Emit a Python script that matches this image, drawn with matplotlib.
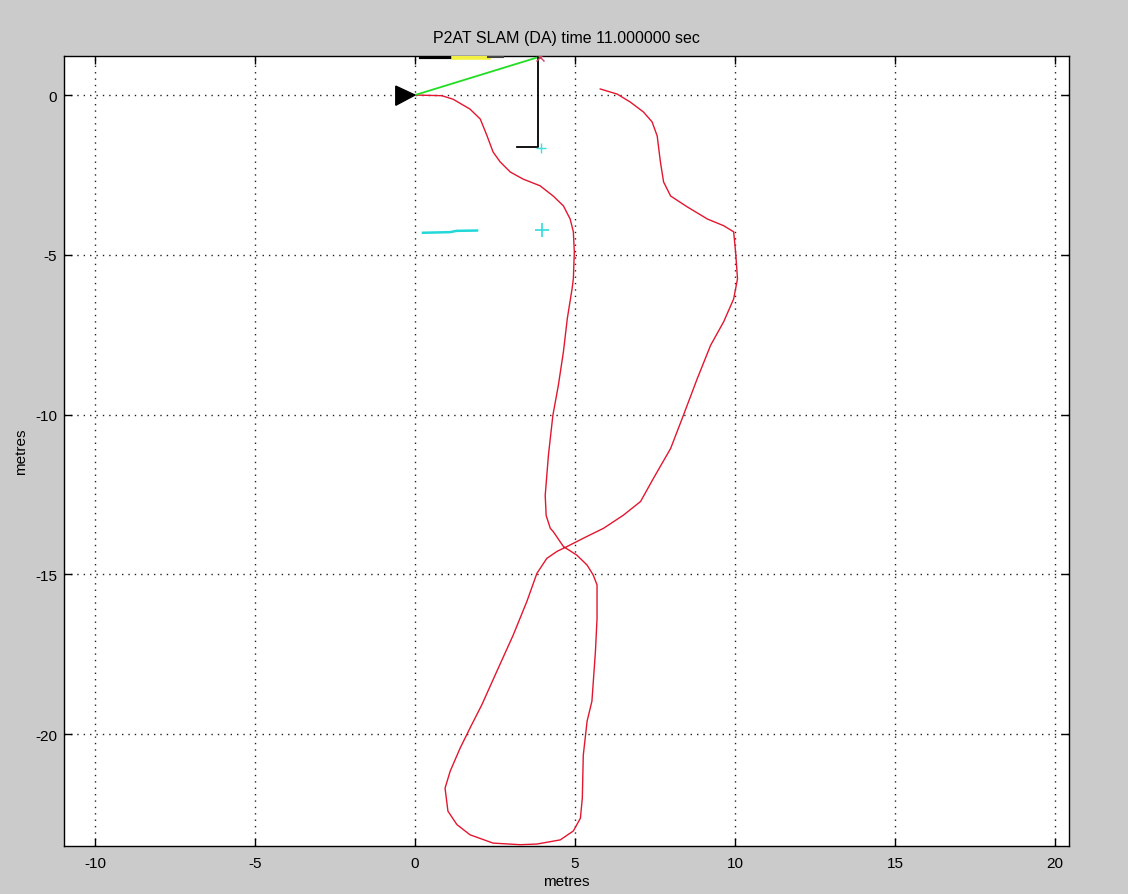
import matplotlib
matplotlib.use("Agg")
import matplotlib.pyplot as plt
from matplotlib.patches import Polygon

plt.rcParams['font.family'] = ['Liberation Sans', 'DejaVu Sans']

# Estimated vehicle path (metres)
path_x = [0.00, 0.84, 1.19, 1.72, 2.04, 2.25, 2.44, 2.66, 2.98, 3.38, 3.91, 4.32,
          4.64, 4.85, 4.95, 4.98, 4.95, 4.91, 4.76, 4.64, 4.48, 4.31, 4.17, 4.07,
          4.10, 4.23, 4.32, 4.64, 5.06, 5.38, 5.57, 5.69, 5.69, 5.64, 5.53, 5.38,
          5.26, 5.23, 5.17, 4.95, 4.54, 3.81, 3.29, 2.44, 1.72, 1.31, 1.03, 0.94,
          1.10, 1.41, 1.72, 2.09, 2.56, 3.07, 3.50, 3.81, 4.12, 4.44, 4.75, 5.38,
          5.89, 6.51, 7.05, 7.45, 7.99, 8.39, 8.82, 9.24, 9.65, 9.96, 10.08, 10.02,
          9.96, 9.65, 9.14, 8.51, 7.99, 7.77, 7.67, 7.57, 7.41, 7.14, 6.73, 6.32,
          5.79]
path_y = [0.00, -0.02, -0.13, -0.44, -0.75, -1.27, -1.78, -2.09, -2.41, -2.63, -2.84,
          -3.16, -3.47, -3.88, -4.28, -4.91, -5.75, -6.06, -7.00, -8.03, -9.09,
          -10.02, -11.28, -12.53, -13.16, -13.56, -13.66, -14.13, -14.40, -14.71,
          -15.02, -15.33, -16.38, -17.41, -18.97, -19.59, -20.66, -22.00, -22.63,
          -23.03, -23.31, -23.44, -23.46, -23.41, -23.15, -22.83, -22.41, -21.69,
          -21.16, -20.44, -19.81, -19.08, -18.03, -16.90, -15.84, -14.97, -14.50,
          -14.28, -14.13, -13.81, -13.56, -13.15, -12.72, -12.00, -11.06, -10.02,
          -8.88, -7.83, -7.09, -6.38, -5.75, -4.91, -4.28, -4.09, -3.88, -3.50,
          -3.16, -2.72, -2.09, -1.28, -0.84, -0.53, -0.22, 0.03, 0.19]

# Vehicle outline
vehicle_x = [-0.60, -0.60, 0.00]
vehicle_y = [0.28, -0.32, 0.00]

# Sensor ray to the observed feature
ray_x = [0.00, 3.90]
ray_y = [0.00, 1.20]

# Feature uncertainty bars along the top
bar_black_x = [0.18, 1.22]
bar_yellow_x = [1.22, 2.29]
bar_grey_x = [2.29, 2.75]
bar_y = 1.20

# Feature estimate (L-shaped covariance bounds)
feat_x = 3.90
feat_y = 1.20
cov_x = [3.85, 3.85, 3.20]
cov_y = [1.20, -1.63, -1.63]
feat2_x = 3.93
feat2_y = -1.65

# Second landmark (cyan)
lm_x = [0.25, 1.10, 1.30, 1.94]
lm_y = [-4.31, -4.29, -4.25, -4.24]
lm_plus_x = 3.97
lm_plus_y = -4.22

x_ticks = [-10, -5, 0, 5, 10, 15, 20]
y_ticks = [-20, -15, -10, -5, 0]

fig = plt.figure(figsize=(11.28, 8.95), dpi=100, facecolor='#cbcbcb')
ax = fig.add_axes([0.0570, 0.0533, 0.8904, 0.8833])
ax.set_facecolor('white')

ax.plot(path_x, path_y, color='#e3162f', lw=1.0, zorder=3)
ax.plot(ray_x, ray_y, color='#22dd22', lw=1.3, zorder=3)
ax.plot(bar_black_x, [bar_y, bar_y], color='black', lw=3, zorder=4)
ax.plot(bar_yellow_x, [bar_y, bar_y], color='#f2f040', lw=4, zorder=4)
ax.plot(bar_grey_x, [bar_y, bar_y], color='#444444', lw=1.5, zorder=4)
ax.plot(cov_x, cov_y, color='black', lw=1.3, zorder=4)
ax.plot([feat_x], [feat_y], marker='x', color='#d04060', ms=6, mew=1, zorder=5)
ax.plot([feat2_x], [feat2_y], marker='+', color='#40e0e0', ms=7, mew=1, zorder=5)
ax.plot(lm_x, lm_y, color='#22d8d8', lw=1.8, zorder=3)
ax.plot([lm_plus_x], [lm_plus_y], marker='+', color='#30dcdc', ms=10, mew=1.2, zorder=5)
ax.add_patch(Polygon(list(zip(vehicle_x, vehicle_y)), closed=True,
                     facecolor='black', edgecolor='black', lw=1, zorder=5))

ax.set_xlim(-10.96, 20.43)
ax.set_ylim(-23.51, 1.23)
ax.set_xticks(x_ticks)
ax.set_yticks(y_ticks)
ax.set_xticklabels([str(v) for v in x_ticks])
ax.set_yticklabels([str(v) for v in y_ticks])
ax.grid(True, color='#222222', linestyle=(0, (1, 3.6)), lw=1.0)
ax.tick_params(direction='in', length=6, width=1, top=True, right=True,
               labelsize=11, colors='black')
ax.tick_params(axis='x', pad=7)
ax.tick_params(axis='y', pad=5)
for s in ax.spines.values():
    s.set_color('black')
    s.set_linewidth(1)

ax.set_title('P2AT SLAM (DA) time 11.000000 sec', fontsize=11.5, pad=10)
ax.set_xlabel('metres', fontsize=11, labelpad=3)
ax.set_ylabel('metres', fontsize=11, labelpad=5)

fig.savefig('out.png', dpi=100, facecolor=fig.get_facecolor())
